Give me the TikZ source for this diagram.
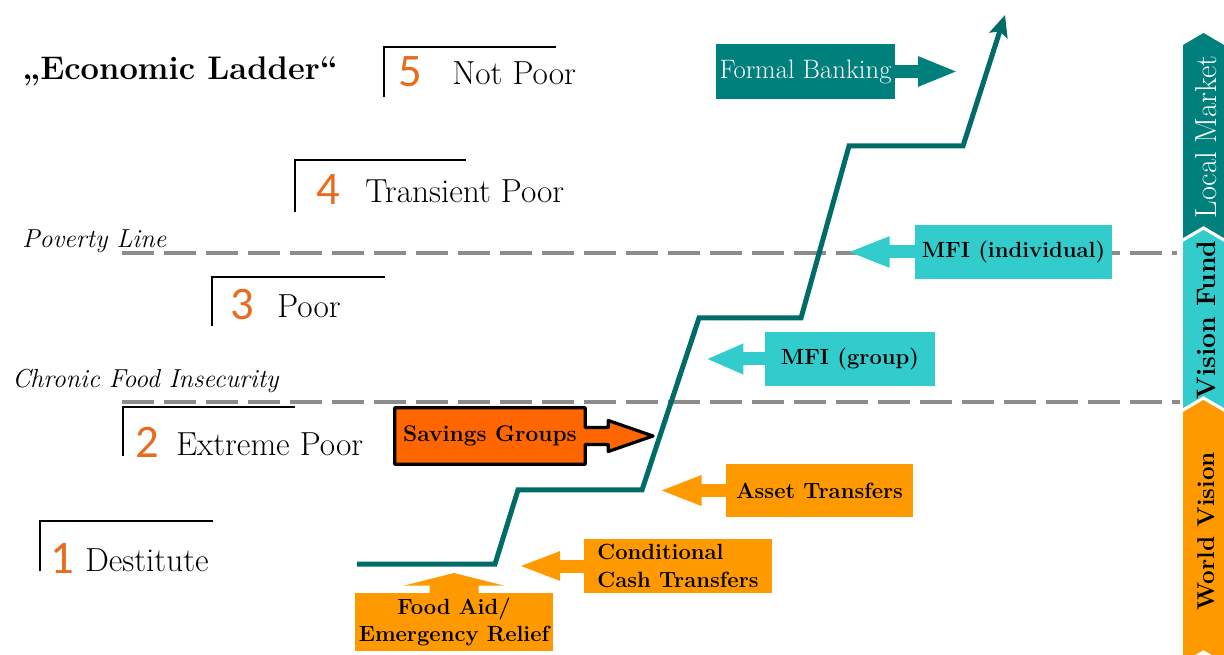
\documentclass[tikz,border=0pt]{standalone}
\usepackage{fontspec}
\newfontfamily\digitfont{Carlito}
\usetikzlibrary{arrows.meta,calc}
\definecolor{tealline}{RGB}{0,108,104}
\definecolor{tealbox}{RGB}{0,128,125}
\definecolor{cyanbox}{RGB}{51,204,204}
\definecolor{orangebox}{RGB}{255,153,0}
\definecolor{savorange}{RGB}{255,102,0}
\definecolor{numorange}{RGB}{232,108,32}
\definecolor{dashgray}{RGB}{140,140,140}
\pgfdeclarelayer{bg}
\pgfsetlayers{bg,main}
\tikzset{
  bracketline/.style={black, line width=1.5pt},
  dashline/.style={dashgray, line width=3pt, dash pattern=on 24pt off 7.5pt},
  lvlnum/.style={anchor=base west, inner sep=0, text=numorange, font=\digitfont\fontsize{35}{36}\selectfont},
  lvltext/.style={anchor=base west, inner sep=0, font=\fontsize{25}{27}\selectfont},
  linelabel/.style={anchor=base west, inner sep=0, font=\itshape\fontsize{19.5}{21}\selectfont},
  boxbase/.style={inner sep=0, anchor=center, align=center, font=\bfseries\fontsize{16.5}{20.5}\selectfont},
  tealb/.style={boxbase, fill=tealbox, text=white, font=\fontsize{20}{22}\selectfont},
  cyanb/.style={boxbase, fill=cyanbox},
  orangeb/.style={boxbase, fill=orangebox},
  blockarrow/.style={line width=9.75pt},
  sidetext/.style={rotate=90, inner sep=0, anchor=center},
}
\begin{document}
\begin{tikzpicture}[x=0.75pt,y=-0.75pt]
\useasboundingbox (0,0) rectangle (1224,655);

% title
\node[anchor=base west, inner sep=0, font=\bfseries\fontsize{24.5}{27}\selectfont] (title) at (22,80) {„Economic Ladder“};

% level brackets
\draw[bracketline] (384,97) -- (384,47) -- (556,47);
\node[lvlnum] (n5) at (398,87) {5};
\node[lvltext] (t5) at (452,85) {Not Poor};

\draw[bracketline] (295,212) -- (295,160) -- (466,160);
\node[lvlnum] (n4) at (316,205) {4};
\node[lvltext] (t4) at (365,203) {Transient Poor};

\draw[bracketline] (212,326) -- (212,277) -- (385,277);
\node[lvlnum] (n3) at (230,320) {3};
\node[lvltext] (t3) at (277,318) {Poor};

\draw[bracketline] (123,456) -- (123,407) -- (295,407);
\node[lvlnum] (n2) at (135,458) {2};
\node[lvltext] (t2) at (176,456) {Extreme Poor};

\draw[bracketline] (40,571) -- (40,521) -- (213,521);
\node[lvlnum] (n1) at (50,573) {1};
\node[lvltext] (t1) at (85,571) {Destitute};

% threshold lines
\node[linelabel] (pl) at (22,248) {Poverty Line};
\node[linelabel] (cfi) at (12,388) {Chronic Food Insecurity};
\coordinate (pl0) at (122,253);
\coordinate (pl1) at (1177,253);
\coordinate (cf0) at (122,402);
\coordinate (cf1) at (1180,402);
\draw[dashline] (pl0) -- (pl1);
\draw[dashline] (cf0) -- (cf1);

% side bar
\fill[tealbox] (1183,45) -- (1203.5,33) -- (1224,45) -- (1224,238) -- (1203.5,226) -- (1183,238) -- cycle;
\fill[cyanbox] (1183,242) -- (1203.5,230) -- (1224,242) -- (1224,408) -- (1203.5,396) -- (1183,408) -- cycle;
\fill[orangebox] (1183,412) -- (1203.5,400) -- (1224,412) -- (1224,662) -- (1203.5,650) -- (1183,662) -- cycle;
\node[sidetext, text=white, font=\fontsize{22.8}{24}\selectfont] (lm) at (1206,137) {Local Market};
\node[sidetext, font=\bfseries\fontsize{20}{22}\selectfont] (vf) at (1206,320) {Vision Fund};
\node[sidetext, font=\bfseries\fontsize{18.2}{20}\selectfont] (wv) at (1206,531) {World Vision};

% staircase
\coordinate (s0) at (357,564);
\coordinate (s1) at (495,564);
\coordinate (s2) at (518,490);
\coordinate (s3) at (642,490);
\coordinate (s4) at (699,318);
\coordinate (s5) at (801,318);
\coordinate (s6) at (849,146);
\coordinate (s7) at (963,146);
\coordinate (s8) at (1005,15);
\draw[tealline, line width=3.75pt, -{Stealth[length=16pt,width=14pt,inset=3pt]}]
  (s0) -- (s1) -- (s2) -- (s3) -- (s4) -- (s5) -- (s6) -- (s7) -- (s8);

% boxes
\node[tealb, minimum width=134pt, minimum height=41pt] (fb) at (805.5,71.5) {Formal Banking};
\coordinate (fbtip) at (958,71.5);
\draw[tealbox, blockarrow, -{Triangle[length=30pt,width=20.5pt]}] (fb.east) -- (fbtip);

\node[cyanb, minimum width=148pt, minimum height=40.5pt] (mfii) at (1013.5,252) {MFI (individual)};
\coordinate (mfiitip) at (847,252);
\draw[cyanbox, blockarrow, -{Triangle[length=32pt,width=21pt]}] (mfii.west) -- (mfiitip);

\node[cyanb, minimum width=127.5pt, minimum height=40.5pt] (mfig) at (850,359) {MFI (group)};
\coordinate (mfigtip) at (706,359);
\draw[cyanbox, blockarrow, -{Triangle[length=28pt,width=21pt]}] (mfig.west) -- (mfigtip);

\node[orangeb, minimum width=140pt, minimum height=40pt] (asset) at (819.5,490.5) {Asset Transfers};
\coordinate (assettip) at (659,490.5);
\draw[orangebox, blockarrow, -{Triangle[length=32pt,width=20.5pt]}] (asset.west) -- (assettip);

\node[orangeb, minimum width=141pt, minimum height=40.5pt, align=left] (cct) at (678,566) {Conditional\\Cash Transfers};
\coordinate (ccttip) at (518,566);
\draw[orangebox, blockarrow, -{Triangle[length=31.5pt,width=19.5pt]}] (cct.west) -- (ccttip);

\node[orangeb, minimum width=148.5pt, minimum height=43.5pt] (food) at (454,622) {Food Aid/\\Emergency Relief};
\coordinate (foodtip) at (454,573);
\fill[orangebox] ($(food.north)+(-24.5,1)$) -- ($(food.north)+(-24.5,-7)$) -- ($(food.north)+(-50.5,-7)$) -- (foodtip)
  -- ($(food.north)+(50.5,-7)$) -- ($(food.north)+(24.5,-7)$) -- ($(food.north)+(24.5,1)$) -- cycle;

\node[boxbase, minimum width=142.5pt, minimum height=42pt, font=\bfseries\fontsize{17}{19}\selectfont] (sav) at (490,436) {Savings Groups};
\coordinate (savtip) at (653,436);
\begin{pgfonlayer}{bg}
\draw[fill=savorange, draw=black, line width=2.4pt, line join=round]
  (sav.north west) -- (sav.north east) -- ($(sav.east)+(0,-8.5)$) -- ($(sav.east)+(23,-8.5)$)
  -- ($(sav.east)+(23,-15.5)$) -- (savtip) -- ($(sav.east)+(23,15.5)$) -- ($(sav.east)+(23,8.5)$)
  -- ($(sav.east)+(0,8.5)$) -- (sav.south east) -- (sav.south west) -- cycle;
\end{pgfonlayer}
\end{tikzpicture}
\end{document}
